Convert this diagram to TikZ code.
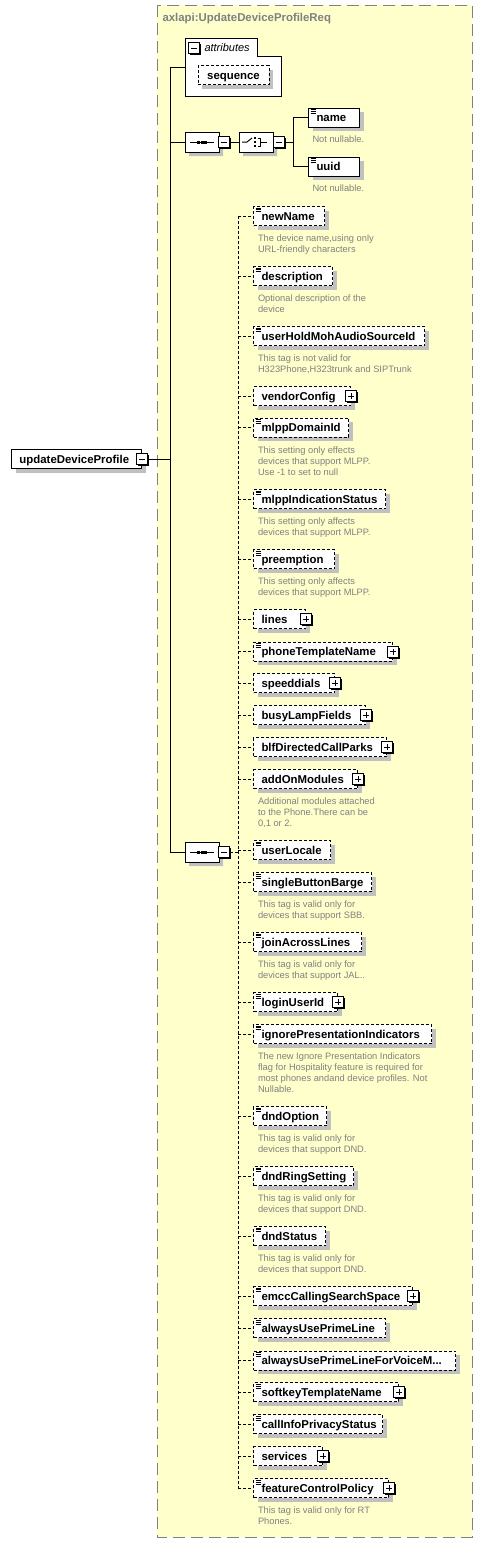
\documentclass[tikz,border=0pt]{standalone}
\usepackage{fontspec}
\usetikzlibrary{shapes.misc,shadows}
\newfontfamily\uifont{Liberation Sans}
\definecolor{panel}{HTML}{FFFFCC}
\definecolor{rim}{HTML}{808080}
\definecolor{notegray}{HTML}{808080}
\definecolor{shade}{HTML}{C0C0C0}
\newcommand{\boxfont}{\uifont\fontsize{11.4}{13}\selectfont\bfseries}
\newcommand{\notefont}{\uifont\fontsize{9.3}{11}\selectfont}

\tikzset{
  elbox/.style={draw, fill=white, anchor=west, minimum height=19pt, inner xsep=8pt, inner ysep=0pt,
    text height=9pt, text depth=1pt, font=\boxfont, align=left,
    drop shadow={shadow xshift=4pt, shadow yshift=-4pt, fill=shade, opacity=1}},
  opt/.style={elbox, dash pattern=on 3pt off 2pt},
  leaf/.style={path picture={
    \foreach \k in {1.5,3.3,5.1}
      \draw[solid, black, line width=.8pt] ([shift={(2pt,-\k pt)}]path picture bounding box.north west) -- +(5pt,0pt);}},
  note/.style={anchor=north west, inner sep=0pt, font=\notefont, text=notegray, align=left},
  tog/.style={draw, solid, fill=white, minimum size=11pt, inner sep=0pt,
    drop shadow={shadow xshift=1.5pt, shadow yshift=-1.5pt, fill=black, opacity=1}},
  minusbox/.style={tog, path picture={
    \draw[solid] ([xshift=2.5pt]path picture bounding box.west) -- ([xshift=-2.5pt]path picture bounding box.east);}},
  plusbox/.style={tog, path picture={
    \draw[solid] ([xshift=2.5pt]path picture bounding box.west) -- ([xshift=-2.5pt]path picture bounding box.east);
    \draw[solid] ([yshift=-2.5pt]path picture bounding box.north) -- ([yshift=2.5pt]path picture bounding box.south);}},
  octa/.style={draw, fill=white, chamfered rectangle, chamfered rectangle xsep=5pt, chamfered rectangle ysep=5pt,
    minimum width=34pt, minimum height=20pt, inner sep=0pt,
    drop shadow={shadow xshift=4pt, shadow yshift=-4pt, fill=shade, opacity=1}},
  seq/.style={octa, path picture={
    \draw[solid] ([xshift=-12pt]path picture bounding box.center) -- ([xshift=12pt]path picture bounding box.center);
    \foreach \d in {-3.8,0,3.8}
      \fill[black] ([xshift=\d pt]path picture bounding box.center) +(-1.5pt,-1.5pt) rectangle +(1.5pt,1.5pt);}},
  choice/.style={octa, path picture={
    \coordinate (pc) at (path picture bounding box.center);
    \draw[solid] ([xshift=-14pt]pc) -- ([xshift=-9pt]pc) -- ([shift={(-4pt,4pt)}]pc);
    \foreach \d in {-4,0,4}
      \fill[black] ([shift={(-1pt,\d pt)}]pc) +(-1.3pt,-1.3pt) rectangle +(1.3pt,1.3pt);
    \draw[solid] ([shift={(2pt,4pt)}]pc) -- ([shift={(4pt,4pt)}]pc) -- ([shift={(4pt,-4pt)}]pc) -- ([shift={(2pt,-4pt)}]pc);
    \draw[solid] ([xshift=4pt]pc) -- ([xshift=11pt]pc);}},
  treeline/.style={dash pattern=on 3pt off 2pt}
}

\begin{document}
\begin{tikzpicture}[x=1pt, y=-1pt, line width=1pt]
    \useasboundingbox (0,0) rectangle (483,1543);

    % Complex type panel
    \draw[fill=panel, draw=rim, dash pattern=on 12pt off 6pt] (157,5) rectangle (472,1537);
    \node[anchor=west, inner sep=0pt, font=\boxfont, text=rim] (title) at (162,19) {axlapi:UpdateDeviceProfileReq};

    % Attributes group
    \draw[fill=white] (185,96) -- (185,38) -- (257,38) -- (257,56) -- (281,56) -- (281,96) -- cycle;
    \coordinate (attrs) at (185,67);
    \node[minusbox] (am) at (194,48) {};
    \node[anchor=west, inner sep=0pt, font=\uifont\fontsize{11}{13}\selectfont\itshape] (attrlabel) at (204,48) {attributes};
    \node[opt, anchor=center, text width=55pt, align=center] (seqattr) at (233.5,75) {sequence};

    % Root element
    \node[elbox, text width=114pt] (dp) at (11,459) {updateDeviceProfile};
    \node[minusbox] (dpm) at (dp.east) {};
    \coordinate (trunk) at (170,459);

    % Key sequence and choice
    \node[seq] (s1) at (202,142) {};
    \node[minusbox] (s1m) at (224,142) {};
    \node[choice] (c1) at (256,142) {};
    \node[minusbox] (c1m) at (279,142) {};
    \coordinate (fork) at (293,142);
    \node[elbox, leaf, text width=35pt] (nm) at (308,117.5) {name};
    \node[note] (nmn) at (312,135.5) {Not nullable.};
    \node[elbox, leaf, text width=35pt] (uu) at (308,166.5) {uuid};
    \node[note] (uun) at (312,184.5) {Not nullable.};

    % Optional fields sequence
    \node[seq] (s2) at (202,852) {};
    \node[minusbox] (s2m) at (224,852) {};
    \coordinate (rake) at (238,852);

    \node[opt, leaf, text width=55pt] (nN) at (253,216) {newName};
    \node[note] (nNn) at (257.5,234.3) {The device name,using only\\URL-friendly characters};
    \node[opt, leaf, text width=63pt] (desc) at (253,276) {description};
    \node[note] (descn) at (257.5,294.3) {Optional description of the\\device};
    \node[opt, leaf, text width=155pt] (uhm) at (253,336) {userHoldMohAudioSourceId};
    \node[note] (uhmn) at (257.5,354.3) {This tag is not valid for\\H323Phone,H323trunk and SIPTrunk};
    \node[opt, text width=81pt] (vc) at (253,396) {vendorConfig};
    \node[plusbox] (vcx) at (vc.east) {};
    \node[opt, leaf, text width=79pt] (mdi) at (253,427.7) {mlppDomainId};
    \node[note] (mdin) at (257.5,446.3) {This setting only effects\\devices that support MLPP.\\Use -1 to set to null};
    \node[opt, leaf, text width=116pt] (mis) at (253,499) {mlppIndicationStatus};
    \node[note] (misn) at (257.5,517.3) {This setting only affects\\devices that support MLPP.};
    \node[opt, leaf, text width=65pt] (pre) at (253,559.3) {preemption};
    \node[note] (pren) at (257.5,577.6) {This setting only affects\\devices that support MLPP.};
    \node[opt, text width=36pt] (lin) at (253,619) {lines};
    \node[plusbox] (linx) at (lin.east) {};
    \node[opt, leaf, text width=123pt] (ptn) at (253,651.7) {phoneTemplateName};
    \node[plusbox] (ptnx) at (ptn.east) {};
    \node[opt, text width=65pt] (sd) at (253,683.3) {speeddials};
    \node[plusbox] (sdx) at (sd.east) {};
    \node[opt, text width=96pt] (blf) at (253,715.3) {busyLampFields};
    \node[plusbox] (blfx) at (blf.east) {};
    \node[opt, text width=117pt] (bdc) at (253,747.3) {blfDirectedCallParks};
    \node[plusbox] (bdcx) at (bdc.east) {};
    \node[opt, text width=88pt] (aom) at (253,779.3) {addOnModules};
    \node[plusbox] (aomx) at (aom.east) {};
    \node[note] (aomn) at (257.5,797.6) {Additional modules attached\\to the Phone.There can be\\0,1 or 2.};
    \node[opt, leaf, text width=61pt] (ul) at (253,850) {userLocale};
    \node[opt, leaf, text width=102pt] (sbb) at (253,882.3) {singleButtonBarge};
    \node[note] (sbbn) at (257.5,900.6) {This tag is valid only for\\devices that support SBB.};
    \node[opt, leaf, text width=92pt] (jal) at (253,942) {joinAcrossLines};
    \node[note] (jaln) at (257.5,960.3) {This tag is valid only for\\devices that support JAL..};
    \node[opt, leaf, text width=68pt] (lui) at (253,1002.3) {loginUserId};
    \node[plusbox] (luix) at (lui.east) {};
    \node[opt, leaf, text width=162pt] (ipi) at (253,1034) {ignorePresentationIndicators};
    \node[note] (ipin) at (257.5,1052.3) {The new Ignore Presentation Indicators\\flag for Hospitality feature is required for\\most phones andand device profiles. Not\\Nullable.};
    \node[opt, leaf, text width=57pt] (dno) at (253,1116) {dndOption};
    \node[note] (dnon) at (257.5,1134.3) {This tag is valid only for\\devices that support DND.};
    \node[opt, leaf, text width=84pt] (drs) at (253,1176) {dndRingSetting};
    \node[note] (drsn) at (257.5,1194.3) {This tag is valid only for\\devices that support DND.};
    \node[opt, leaf, text width=56pt] (dns) at (253,1236) {dndStatus};
    \node[note] (dnsn) at (257.5,1254.3) {This tag is valid only for\\devices that support DND.};
    \node[opt, leaf, text width=143pt] (ecs) at (253,1296) {emccCallingSearchSpace};
    \node[plusbox] (ecsx) at (ecs.east) {};
    \node[opt, leaf, text width=116pt] (aup) at (253,1328.3) {alwaysUsePrimeLine};
    \node[opt, leaf, text width=186pt] (apv) at (253,1360.7) {alwaysUsePrimeLineForVoiceM...};
    \node[opt, leaf, text width=129pt] (stn) at (253,1392.3) {softkeyTemplateName};
    \node[plusbox] (stnx) at (stn.east) {};
    \node[opt, leaf, text width=113pt] (cip) at (253,1424.3) {callInfoPrivacyStatus};
    \node[opt, text width=53pt] (svc) at (253,1456) {services};
    \node[plusbox] (svcx) at (svc.east) {};
    \node[opt, leaf, text width=119pt] (fcp) at (253,1488.3) {featureControlPolicy};
    \node[plusbox] (fcpx) at (fcp.east) {};
    \node[note] (fcpn) at (257.5,1506.6) {This tag is valid only for RT\\Phones.};

    % Draw the connections
    \draw (dpm.east) -- (trunk);
    \draw (attrs) -- (attrs -| trunk) -- (trunk |- s2.west) -- (s2.west);
    \draw (trunk |- s1.west) -- (s1.west);
    \draw (s1m.east) -- (c1.west);
    \draw (c1m.east) -- (fork) |- (nm.west);
    \draw (fork) |- (uu.west);

    % Draw the optional branches
    \draw[treeline] (s2m.east) -- (rake);
    \draw[treeline] (rake |- nN.west) -- (rake |- fcp.west);
    \foreach \e in {nN,desc,uhm,vc,mdi,mis,pre,lin,ptn,sd,blf,bdc,aom,ul,sbb,jal,lui,ipi,dno,drs,dns,ecs,aup,apv,stn,cip,svc,fcp}
        \draw[treeline] (rake |- \e.west) -- (\e.west);
\end{tikzpicture}
\end{document}
